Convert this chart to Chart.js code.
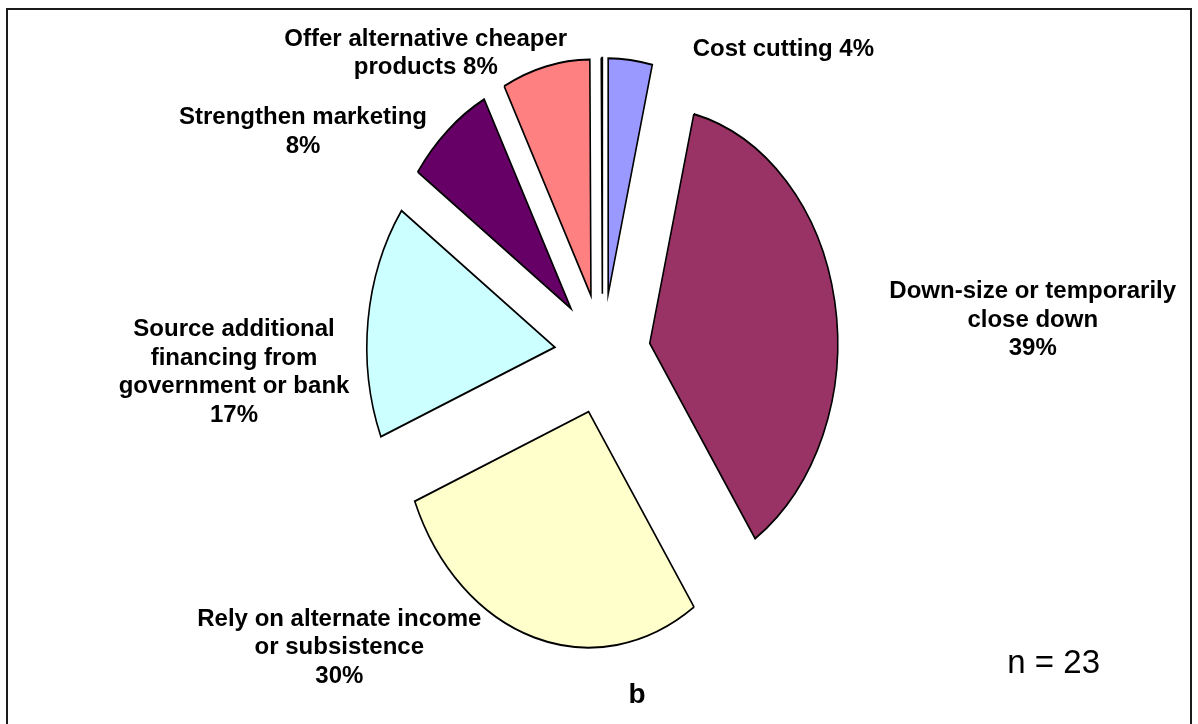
<!DOCTYPE html>
<html><head><meta charset="utf-8">
<script src="https://cdn.jsdelivr.net/npm/chart.js@4/dist/chart.umd.min.js"></script>
<style>html,body{margin:0;padding:0;background:#fff;}canvas{display:block;}</style>
</head><body>
<canvas id="c" width="1198" height="724"></canvas>
<script>
// ---- data ----
const categories = ['Cost cutting', 'Down-size or temporarily\nclose down', 'Rely on alternate income\nor subsistence', 'Source additional\nfinancing from\ngovernment or bank', 'Strengthen marketing', 'Offer alternative cheaper\nproducts', ''];
const values = [4, 39, 30, 17, 8, 8, 0.1];
const percentSeparators = [' ', '\n', '\n', '\n', '\n', ' ', null];
const sampleNote = 'n = 23';
const panelLetter = 'b';

// ---- styles / layout ----
const colors = ['#9999FF', '#993366', '#FFFFCC', '#CCFFFF', '#660066', '#FF8080', '#FFFFFF'];
const PIE = { r: 188, stretchY: 1.255, explode: 48 };
const labelShift = [[153, -12], [198, 17], [-195, 8], [-134, 50], [-144.5, -0.6], [-120, -15], null];
const FONT = '"Liberation Sans", Arial, sans-serif';
const LABEL_SIZE = 24, LINE_H = 28.5;

function centerOf(chart) {
  const a = chart.chartArea;
  return { cx: (a.left + a.right) / 2, cy: (a.top + a.bottom) / 2 };
}

const explodePlugin = {
  id: 'explode',
  afterDatasetsUpdate(chart) {
    const { cx, cy } = centerOf(chart);
    chart.getDatasetMeta(0).data.forEach(el => {
      const mid = (el.startAngle + el.endAngle) / 2;
      el.x = cx + Math.cos(mid) * PIE.explode;
      el.y = cy + Math.sin(mid) * PIE.explode;
    });
  }
};

const ellipsePlugin = {
  id: 'ellipse',
  beforeDatasetsDraw(chart) {
    const { cy } = centerOf(chart);
    const ctx = chart.ctx;
    ctx.save();
    ctx.translate(0, cy);
    ctx.scale(1, PIE.stretchY);
    ctx.translate(0, -cy);
  },
  afterDatasetsDraw(chart) { chart.ctx.restore(); }
};

const labelPlugin = {
  id: 'labels',
  afterDraw(chart) {
    const ctx = chart.ctx;
    const { cy } = centerOf(chart);
    const capH = 0.716 * LABEL_SIZE;
    ctx.save();
    ctx.fillStyle = '#000';
    ctx.textAlign = 'center';
    ctx.textBaseline = 'alphabetic';
    ctx.font = 'bold ' + LABEL_SIZE + 'px ' + FONT;
    chart.getDatasetMeta(0).data.forEach((el, i) => {
      if (percentSeparators[i] === null) return;
      const mid = (el.startAngle + el.endAngle) / 2;
      const tipX = el.x + Math.cos(mid) * PIE.r;
      const tipY = cy + (el.y + Math.sin(mid) * PIE.r - cy) * PIE.stretchY;
      const x = tipX + labelShift[i][0];
      const y = tipY + labelShift[i][1];
      const text = categories[i] + percentSeparators[i] + values[i] + '%';
      const lines = text.split('\n');
      lines.forEach((ln, j) => {
        const by = y - (lines.length - 1) / 2 * LINE_H + j * LINE_H + capH / 2;
        ctx.fillText(ln, x, by);
      });
    });
    // n note and panel letter
    ctx.font = '33px ' + FONT;
    ctx.textAlign = 'right';
    ctx.fillText(sampleNote, 1100, 673);
    ctx.font = 'bold 28px ' + FONT;
    ctx.textAlign = 'center';
    ctx.fillText(panelLetter, 637, 703);
    // frame
    ctx.strokeStyle = '#1a1a1a';
    ctx.lineWidth = 2;
    ctx.beginPath();
    ctx.moveTo(7, 740); ctx.lineTo(7, 9); ctx.lineTo(1191, 9); ctx.lineTo(1191, 740);
    ctx.stroke();
    ctx.restore();
  }
};

new Chart(document.getElementById('c'), {
  type: 'pie',
  data: {
    labels: categories,
    datasets: [{
      data: values,
      backgroundColor: colors,
      borderColor: '#000',
      borderWidth: 1.6,
      borderJoinStyle: 'miter',
      offset: 0
    }]
  },
  options: {
    responsive: false,
    animation: false,
    events: [],
    radius: PIE.r,
    layout: { padding: { left: 57, right: 50, top: 50, bottom: 66 } },
    plugins: { legend: { display: false }, tooltip: { enabled: false } }
  },
  plugins: [explodePlugin, ellipsePlugin, labelPlugin]
});
</script>
</body></html>
